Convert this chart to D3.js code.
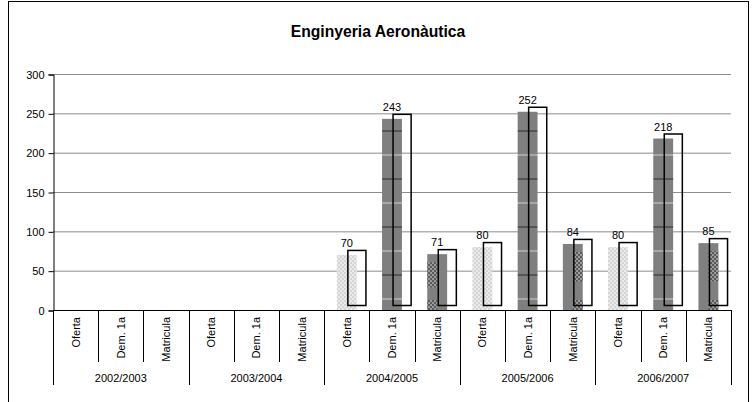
<!DOCTYPE html>
<html>
<head>
<meta charset="utf-8">
<script src="https://cdn.jsdelivr.net/npm/d3@7"></script>
<style>
  body { margin: 0; background: #fff; }
  text { font-family: "Liberation Sans", Arial, sans-serif; }
</style>
</head>
<body>
<script>
// chart data
var years = ["2002/2003", "2003/2004", "2004/2005", "2005/2006", "2006/2007"];
var measures = ["Oferta", "Dem. 1a", "Matricula"];
var oferta = [null, null, 70, 80, 80];
var demanda = [null, null, 243, 252, 218];
var matricula = [null, null, 71, 84, 85];
var yTicks = [0, 50, 100, 150, 200, 250, 300];

var W = 755, H = 402;
var svg = d3.select("body").append("svg")
  .attr("width", W).attr("height", H);

// flatten into one row per category
var rows = [];
years.forEach(function (yr, i) {
  var vals = [oferta[i], demanda[i], matricula[i]];
  measures.forEach(function (m, j) {
    rows.push({ key: yr + "|" + m, year: yr, measure: m, m: j, value: vals[j] });
  });
});

var x = d3.scaleBand().domain(rows.map(function (d) { return d.key; }))
  .range([53, 731]).padding(0);
var y = d3.scaleLinear().domain([0, 300]).range([310, 74]);
var bw = x.bandwidth();

// patterns
var defs = svg.append("defs");
var p0 = defs.append("pattern").attr("id", "pOferta")
  .attr("patternUnits", "userSpaceOnUse").attr("width", 4).attr("height", 4);
p0.append("rect").attr("width", 4).attr("height", 4).attr("fill", "#ebebeb");
p0.append("rect").attr("width", 2).attr("height", 2).attr("fill", "#d4d4d4");
p0.append("rect").attr("x", 2).attr("y", 2).attr("width", 2).attr("height", 2).attr("fill", "#d4d4d4");

var p1 = defs.append("pattern").attr("id", "pDem")
  .attr("patternUnits", "userSpaceOnUse").attr("width", 40).attr("height", 48)
  .attr("y", 130);
p1.append("rect").attr("width", 40).attr("height", 48).attr("fill", "#7f7f7f");
p1.append("rect").attr("y", 0).attr("width", 40).attr("height", 2).attr("fill", "#555");
p1.append("rect").attr("y", 24).attr("width", 40).attr("height", 2).attr("fill", "#a8a8a8");

var p2 = defs.append("pattern").attr("id", "pMat")
  .attr("patternUnits", "userSpaceOnUse").attr("width", 4).attr("height", 4);
p2.append("rect").attr("width", 4).attr("height", 4).attr("fill", "#9a9a9a");
p2.append("rect").attr("width", 2).attr("height", 2).attr("fill", "#5a5a5a");
p2.append("rect").attr("x", 2).attr("y", 2).attr("width", 2).attr("height", 2).attr("fill", "#5a5a5a");

// outer frame
svg.append("rect").attr("x", 8.5).attr("y", 1.5).attr("width", 740).attr("height", 430)
  .attr("fill", "none").attr("stroke", "#000").attr("stroke-width", 1);

// title
svg.append("text").attr("x", 378).attr("y", 37).attr("text-anchor", "middle")
  .style("font-size", "15.7px").style("font-weight", "bold")
  .text("Enginyeria Aeronàutica");

// gridlines
svg.append("g").selectAll("line").data(yTicks.filter(function (t) { return t > 0; }))
  .enter().append("line")
  .attr("x1", 53).attr("x2", 731)
  .attr("y1", function (d) { return y(d) + 0.5; }).attr("y2", function (d) { return y(d) + 0.5; })
  .attr("stroke", "#8c8c8c").attr("stroke-width", 1);

// y axis
var yAxis = svg.append("g").attr("transform", "translate(53.5,0.5)")
  .call(d3.axisLeft(y).tickValues(yTicks).tickSize(5).tickPadding(4).tickFormat(d3.format("d")));
yAxis.select(".domain").attr("stroke", "#000");
yAxis.selectAll("text").style("font-size", "11px").attr("fill", "#000");

// bars
var bars = svg.append("g").selectAll("g").data(rows.filter(function (d) { return d.value != null; }))
  .enter().append("g");
var fills = ["url(#pOferta)", "url(#pDem)", "#808080"];
var barW = bw * 0.44, barOff = (bw - barW) / 2;
bars.append("rect")
  .attr("x", function (d) { return x(d.key) + barOff; })
  .attr("y", function (d) { return y(d.value); })
  .attr("width", barW)
  .attr("height", function (d) { return y(0) - y(d.value); })
  .attr("fill", function (d) { return fills[d.m]; });

// checker patches on matricula bars
bars.filter(function (d) { return d.m === 2; }).each(function (d) {
  var g = d3.select(this);
  var x0 = x(d.key) + barOff;
  var yi = d.year === "2004/2005" ? 0 : barW / 2;
  var top = y(d.value);
  g.append("rect").attr("x", x0 + yi).attr("y", top + 8)
    .attr("width", barW / 2).attr("height", (y(0) - top) * 0.45)
    .attr("fill", "url(#pMat)");
  g.append("rect").attr("x", x0 + yi).attr("y", y(0) - 10)
    .attr("width", barW / 2).attr("height", 10)
    .attr("fill", "url(#pMat)");
});

// offset outline boxes
bars.append("rect")
  .attr("x", function (d) { return x(d.key) + barOff + 11; })
  .attr("y", function (d) { return y(d.value) - 4.5; })
  .attr("width", bw * 0.4)
  .attr("height", function (d) { return y(0) - y(d.value); })
  .attr("fill", "none").attr("stroke", "#000").attr("stroke-width", 1.5);

// value labels
bars.append("text")
  .attr("x", function (d) { return x(d.key) + bw / 2; })
  .attr("y", function (d) { return y(d.value) - 8; })
  .attr("text-anchor", "middle").style("font-size", "11px")
  .text(function (d) { return d.value; });

// category axis
var cat = svg.append("g");
cat.append("line").attr("x1", 53).attr("x2", 731).attr("y1", 310.5).attr("y2", 310.5)
  .attr("stroke", "#000");
var seps = d3.range(rows.length + 1);
cat.selectAll("line.sep").data(seps).enter().append("line")
  .attr("class", "sep")
  .attr("x1", function (i) { return Math.round(53 + i * bw) + 0.5; })
  .attr("x2", function (i) { return Math.round(53 + i * bw) + 0.5; })
  .attr("y1", 310).attr("y2", function (i) { return i % 3 === 0 ? 385 : 362; })
  .attr("stroke", "#000");

cat.selectAll("text.m").data(rows).enter().append("text")
  .attr("class", "m")
  .attr("transform", function (d) { return "translate(" + (x(d.key) + bw / 2 + 4) + ",317) rotate(-90)"; })
  .attr("text-anchor", "end").style("font-size", "11px")
  .text(function (d) { return d.measure; });

cat.selectAll("text.y").data(years).enter().append("text")
  .attr("class", "y")
  .attr("x", function (d, i) { return 53 + (i * 3 + 1.5) * bw; })
  .attr("y", 382).attr("text-anchor", "middle").style("font-size", "11px")
  .text(function (d) { return d; });
</script>
</body>
</html>
